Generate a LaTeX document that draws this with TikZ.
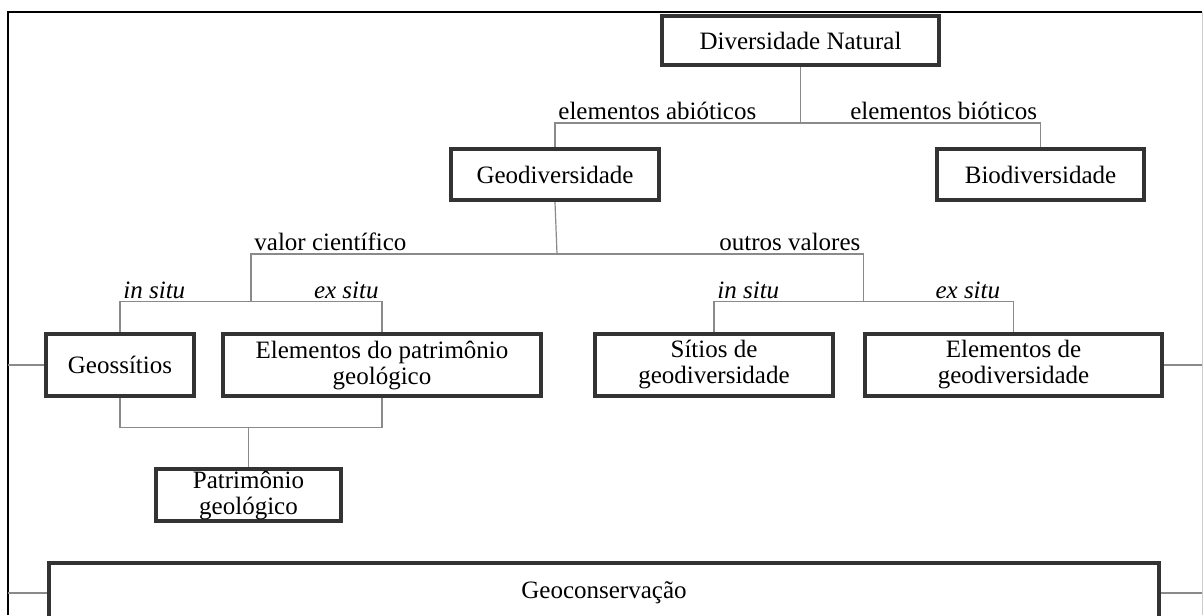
\documentclass[tikz,border=0pt]{standalone}
\usepackage{fontspec}
\setmainfont{Liberation Serif}
\usetikzlibrary{calc}
\definecolor{boxline}{HTML}{333333}
\definecolor{linkgray}{HTML}{8A8A8A}

\begin{document}
\begin{tikzpicture}[x=0.5pt,y=-0.5pt,
    caixa/.style={draw=boxline, line width=2.2pt, align=center, inner sep=0pt,
        font=\fontsize{12.5}{13}\selectfont},
    liga/.style={draw=linkgray, line width=0.6pt},
    rotulo/.style={inner sep=1.5pt, font=\fontsize{12.5}{13}\selectfont},
    moldura/.style={draw=black, line width=0.9pt}]
    \useasboundingbox (0,0) rectangle (1203,615);

    % boxes
    \node[caixa, minimum width=138.5pt, minimum height=24.5pt] (dn) at (800.5,40.5) {Diversidade Natural};
    \node[caixa, minimum width=104pt, minimum height=25.5pt] (geo) at (555,174.5) {Geodiversidade};
    \node[caixa, minimum width=103.5pt, minimum height=25.5pt] (bio) at (1040.5,174.5) {Biodiversidade};
    \node[caixa, minimum width=74pt, minimum height=31pt] (geos) at (120,365) {Geossítios};
    \node[caixa, minimum width=159pt, minimum height=31pt] (elpat) at (382,365) {Elementos do patrimônio\\geológico};
    \node[caixa, minimum width=119pt, minimum height=31pt] (sitios) at (714,365) {Sítios de\\geodiversidade};
    \node[caixa, minimum width=148.5pt, minimum height=31pt] (elgeo) at (1013.5,365) {Elementos de\\geodiversidade};
    \node[caixa, minimum width=92.5pt, minimum height=26pt] (patr) at (248.5,495) {Patrimônio\\geológico};
    \node[caixa, minimum width=555pt, minimum height=30pt] (gcons) at (604,593) {Geoconservação};

    % junction points
    \coordinate (j1) at (800.5,123);
    \coordinate (j2) at (557,254);
    \coordinate (j3) at ($(geos.north)!0.5!(elpat.north)+(0,-30)$);
    \coordinate (j4) at ($(sitios.north)!0.5!(elgeo.north)+(0,-30)$);
    \coordinate (j5) at ($(patr.north)+(0,-39)$);

    % connectors
    \draw[liga] (dn.south) -- (j1);
    \draw[liga] (geo.north) |- (j1) -| (bio.north);
    \draw[liga] (geo.south) -- (j2);
    \draw[liga] (j3) |- (j2) -| (j4);
    \draw[liga] (geos.north) |- (j3) -| (elpat.north);
    \draw[liga] (sitios.north) |- (j4) -| (elgeo.north);
    \draw[liga] (geos.south) |- (j5) -| (elpat.south);
    \draw[liga] (j5) -- (patr.north);

    % labels
    \node[rotulo, anchor=south west] (abio) at (geo.north |- j1) {elementos abióticos};
    \node[rotulo, anchor=south east] (bioti) at (bio.north |- j1) {elementos bióticos};
    \node[rotulo, anchor=south west] (vcien) at (j3 |- j2) {valor científico};
    \node[rotulo, anchor=south east] (outros) at (j4 |- j2) {outros valores};
    \node[rotulo, anchor=south west] (insitu1) at (geos.north |- j3) {\itshape in situ};
    \node[rotulo, anchor=south east] (exsitu1) at (elpat.north |- j3) {\itshape ex situ};
    \node[rotulo, anchor=south west] (insitu2) at (sitios.north |- j4) {\itshape in situ};
    \node[rotulo, anchor=south east, xshift=-5pt] (exsitu2) at (elgeo.north |- j4) {\itshape ex situ};

    % frame
    \coordinate (ftl) at (8,12);
    \coordinate (fbl) at (8,615);
    \coordinate (ftr) at (1202,12);
    \coordinate (fbr) at (1202,615);
    \draw[moldura] (fbl) -- (ftl) -- (ftr);
    \draw[draw=black!20, line width=0.5pt] (ftr) -- (fbr);
    \draw[liga] (geos.west) -- (geos.west -| ftl);
    \draw[liga] (gcons.west) -- (gcons.west -| ftl);
    \draw[liga] (elgeo.east) -- (elgeo.east -| ftr);
    \draw[liga] (gcons.east) -- (gcons.east -| ftr);
\end{tikzpicture}
\end{document}
